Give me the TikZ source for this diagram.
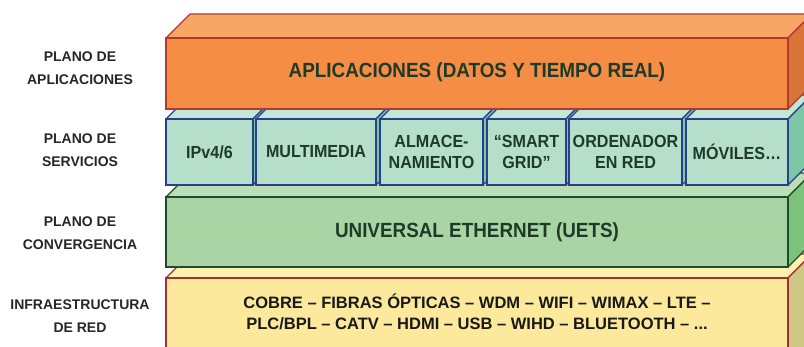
\documentclass[tikz,border=0pt]{standalone}
\usepackage{fontspec}
\setmainfont{Liberation Sans}
\newfontfamily\estrecha[FakeStretch=0.92]{Liberation Sans}

% colours of the four planes
\definecolor{aplFrente}{HTML}{F58D45}
\definecolor{aplTapa}{HTML}{F8A666}
\definecolor{aplLado}{HTML}{D97538}
\definecolor{aplBorde}{HTML}{B03A2E}
\definecolor{serFrente}{HTML}{B5DFCB}
\definecolor{serTapa}{HTML}{C4E6D6}
\definecolor{serLado}{HTML}{7CC7A6}
\definecolor{serBorde}{HTML}{2A3F8C}
\definecolor{conFrente}{HTML}{A9D5A4}
\definecolor{conTapa}{HTML}{BADFB6}
\definecolor{conLado}{HTML}{7DC37C}
\definecolor{conBorde}{HTML}{1F4A2B}
\definecolor{infFrente}{HTML}{FCE99B}
\definecolor{infTapa}{HTML}{FEF1B0}
\definecolor{infLado}{HTML}{CFC885}
\definecolor{infBorde}{HTML}{A33030}
\definecolor{textoCapa}{HTML}{1E3B2A}

% one box: left, top, right, bottom, colour prefix
\newcommand{\bloque}[5]{%
  \filldraw[fill=#5Tapa, draw=#5Borde, line width=1.1pt, line join=round]
    (#1,#2) -- (#1+24,#2-24) -- (#3+24,#2-24) -- (#3,#2) -- cycle;
  \filldraw[fill=#5Lado, draw=#5Borde, line width=1.1pt, line join=round]
    (#3,#2) -- (#3+24,#2-24) -- (#3+24,#4-24) -- (#3,#4) -- cycle;
  \filldraw[fill=#5Frente, draw=#5Borde, line width=1.1pt]
    (#1,#2) rectangle (#3,#4);
}

\tikzset{
  plano/.style={align=center, font=\bfseries\fontsize{14}{23}\selectfont, text=black!85},
  capa/.style={align=center, font=\estrecha\bfseries\fontsize{20.5}{23}\selectfont, text=textoCapa},
  servicio/.style={align=center, font=\estrecha\bfseries\fontsize{17.5}{21.5}\selectfont, text=textoCapa}
}

\begin{document}
\begin{tikzpicture}[x=1pt,y=-1pt]
  \useasboundingbox (0,0) rectangle (804,346);
  \clip (0,0) rectangle (804,346);

  % Infraestructura de red
  \bloque{166}{278}{788}{370}{inf}
  \node [align=center, font=\bfseries\fontsize{16.5}{21}\selectfont, text=black!90]
    (red) at (477,312) {COBRE – FIBRAS ÓPTICAS – WDM – WIFI – WIMAX – LTE –\\
    PLC/BPL – CATV – HDMI – USB – WIHD – BLUETOOTH – ...};

  % Plano de convergencia
  \bloque{166}{197}{788}{267}{con}
  \node [capa] (uets) at (477,232) {UNIVERSAL ETHERNET (UETS)};

  % Plano de servicios
  \bloque{166}{119}{253}{185}{ser}
  \bloque{256}{119}{376}{185}{ser}
  \bloque{380}{119}{483}{185}{ser}
  \bloque{487}{119}{566}{185}{ser}
  \bloque{569}{119}{682}{185}{ser}
  \bloque{686}{119}{788}{185}{ser}
  \node [servicio] (ip)    at (209.5,152) {IPv4/6};
  \node [servicio] (multi) at (316,152) {MULTIMEDIA};
  \node [servicio] (alm)   at (431.5,152) {ALMACE-\\NAMIENTO};
  \node [servicio] (smart) at (526.5,152) {“SMART\\GRID”};
  \node [servicio] (orden) at (625.5,152) {ORDENADOR\\EN RED};
  \node [servicio] (movil) at (737,152) {MÓVILES…};

  % Plano de aplicaciones
  \bloque{166}{38}{788}{109}{apl}
  \node [capa] (apps) at (477,72) {APLICACIONES (DATOS Y TIEMPO REAL)};

  % planes on the left
  \node [plano] (pApl) at (80,68)  {PLANO DE\\APLICACIONES};
  \node [plano] (pSer) at (80,150) {PLANO DE\\SERVICIOS};
  \node [plano] (pCon) at (80,233) {PLANO DE\\CONVERGENCIA};
  \node [plano] (pInf) at (80,316) {INFRAESTRUCTURA\\DE RED};
\end{tikzpicture}
\end{document}
